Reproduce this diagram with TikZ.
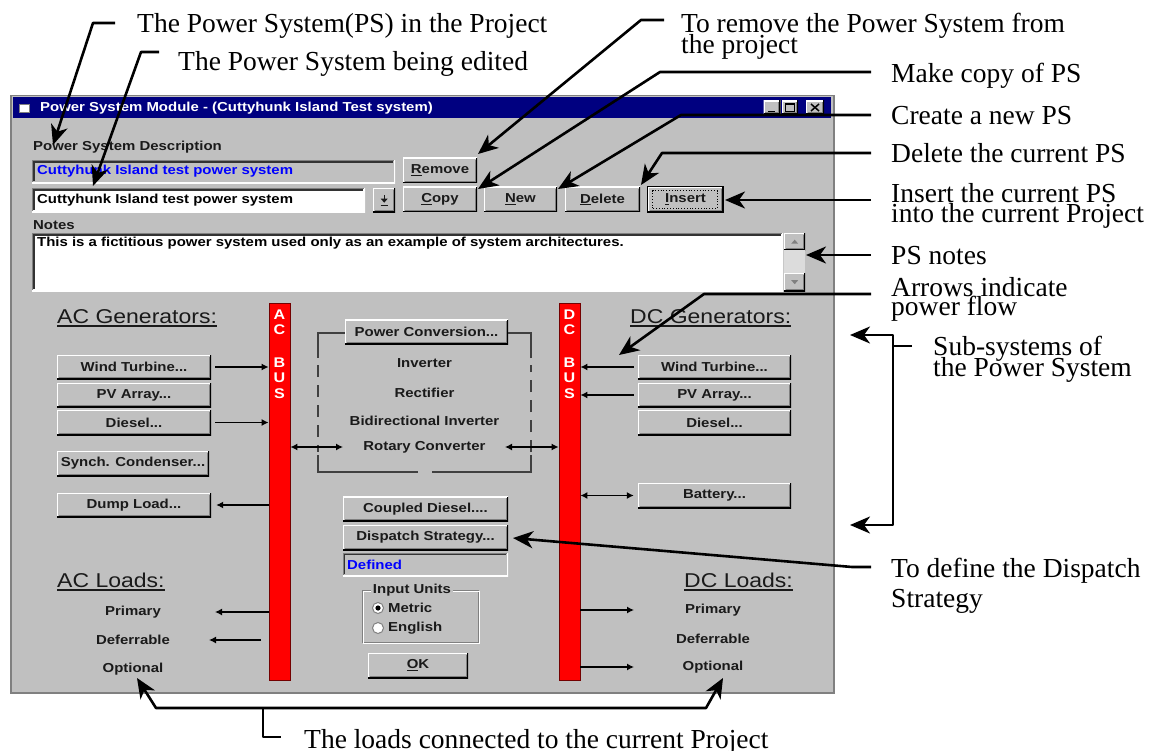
\documentclass[tikz,border=0pt]{standalone}
\usepackage{fontspec}
\setmainfont{Liberation Serif}
\newfontfamily\uisans[FakeStretch=1.15]{Liberation Sans}
\usetikzlibrary{arrows.meta,calc}

\definecolor{winbg}{HTML}{C0C0C0}
\definecolor{navy}{HTML}{000080}
\definecolor{btnshadow}{HTML}{808080}
\definecolor{busred}{HTML}{FF0000}
\definecolor{fieldblue}{HTML}{0000FF}
\definecolor{inktext}{HTML}{1A1A1A}
\definecolor{track}{HTML}{DCDCDC}

\newcommand\uitext{\uisans\bfseries\fontsize{13}{13}\selectfont}
\newcommand\uihead{\uisans\fontsize{20}{20}\selectfont}
\newcommand\bustext{\uisans\bfseries\fontsize{14}{14}\selectfont}
\newcommand\anntext{\fontsize{27.5}{22}\selectfont}
\newcommand\ulc[1]{\underline{#1}}

\tikzset{
  wh/.style 2 args={minimum width=#1pt, minimum height=#2pt},
  raised/.style={fill=winbg, inner sep=0pt, font=\uitext, text=inktext,
    path picture={
      \draw[draw=white,line width=2.4pt]
        (path picture bounding box.south west) -- (path picture bounding box.north west)
        -- (path picture bounding box.north east);
      \draw[draw=black,line width=2.4pt]
        (path picture bounding box.north east) -- (path picture bounding box.south east)
        -- (path picture bounding box.south west);
      \draw[draw=btnshadow,line width=1.2pt]
        ([xshift=-1.8pt,yshift=-1.8pt]path picture bounding box.north east)
        -- ([xshift=-1.8pt,yshift=1.8pt]path picture bounding box.south east)
        -- ([xshift=1.8pt,yshift=1.8pt]path picture bounding box.south west);
    }},
  sunken/.style={inner sep=0pt,
    path picture={
      \draw[draw=btnshadow,line width=2.4pt]
        (path picture bounding box.south west) -- (path picture bounding box.north west)
        -- (path picture bounding box.north east);
      \draw[draw=white,line width=2.4pt]
        (path picture bounding box.north east) -- (path picture bounding box.south east)
        -- (path picture bounding box.south west);
      \draw[draw=black!80,line width=1.2pt]
        ([xshift=1.8pt,yshift=1.8pt]path picture bounding box.south west)
        -- ([xshift=1.8pt,yshift=-1.8pt]path picture bounding box.north west)
        -- ([xshift=-1.8pt,yshift=-1.8pt]path picture bounding box.north east);
    }},
  uilabel/.style={font=\uitext, text=inktext, inner sep=0pt},
  uihead/.style={font=\uihead, text=inktext, inner sep=0pt, anchor=base west},
  headline/.style={line width=1.1pt, draw=inktext},
  bus/.style={fill=busred, draw=red!45!black, line width=0.8pt, inner sep=0pt},
  busletter/.style={font=\bustext, text=white, inner sep=0pt},
  frameline/.style={line width=1.1pt, draw=black!75},
  uiarr/.style={line width=1.3pt, -{Latex[length=7pt,width=7pt]}},
  uidbl/.style={line width=1.3pt, {Latex[length=7pt,width=7pt]}-{Latex[length=7pt,width=7pt]}},
  ann/.style={line width=2.6pt, line join=round, -{Stealth[length=20pt,width=17pt,inset=6pt]}},
  anndbl/.style={line width=2.6pt, line join=round,
    {Stealth[length=20pt,width=17pt,inset=6pt]}-{Stealth[length=20pt,width=17pt,inset=6pt]}},
  leader/.style={line width=2.6pt, line join=round},
  annlabel/.style={font=\anntext, text=black, inner sep=0pt, anchor=base west},
}

\begin{document}
\begin{tikzpicture}[x=1pt,y=-1pt]
\useasboundingbox (0,0) rectangle (1156,751);
\fill[white] (0,0) rectangle (1156,751);

% ---------- dialog window ----------
\node[fill=winbg, draw=btnshadow, line width=1.5pt, inner sep=0pt, wh={823}{597}, anchor=north west] (win) at (10,95) {};
\node[fill=navy, inner sep=0pt, wh={818}{21}, anchor=north west] (titlebar) at (12.5,97) {};
\node[fill=white, draw=btnshadow, line width=0.8pt, inner sep=0pt, wh={10}{8}] (winicon) at (24,108) {};
\node[font=\uitext, text=white, inner sep=0pt, anchor=west] (wintitle) at (40,108)
  {Power System Module - (Cuttyhunk Island Test system)};

\node[raised, wh={17}{14}] (tbmin) at (772,107.5) {};
\draw[line width=1.8pt] ($(tbmin.center)+(-4,4)$) -- ++(7,0);
\node[raised, wh={16}{14}] (tbmax) at (790,107.5) {};
\draw[line width=0.9pt] ($(tbmax.center)+(-4.5,-4)$) rectangle ++(9,8);
\draw[line width=1.8pt] ($(tbmax.center)+(-4.5,-3.5)$) -- ++(9,0);
\node[raised, wh={18}{14}] (tbclose) at (815,107.5) {};
\draw[line width=1.5pt] ($(tbclose.center)+(-4,-3.5)$) -- ++(8,7) ($(tbclose.center)+(4,-3.5)$) -- ++(-8,7);

% ---------- power system description ----------
\node[uilabel, anchor=west] (desclabel) at (33,147) {Power System Description};
\node[sunken, fill=winbg, wh={363}{23}, anchor=north west] (psfield) at (32,160) {};
\node[uilabel, text=fieldblue, anchor=west] (psfieldtext) at (37,171.5) {Cuttyhunk Island test power system};
\node[sunken, fill=white, wh={333}{24}, anchor=north west] (pscombo) at (32,188) {};
\node[uilabel, text=black, anchor=west] (pscombotext) at (37,200) {Cuttyhunk Island test power system};
\node[raised, wh={22}{24}, anchor=north west] (psdrop) at (373,188) {};
\fill[inktext] ($(psdrop.center)+(-3.5,-1.5)$) -- ++(7,0) -- ++(-3.5,4) -- cycle;
\draw[draw=inktext, line width=1pt] ($(psdrop.center)+(-3.5,5)$) -- ++(7,0);
\draw[draw=inktext, line width=1pt] ($(psdrop.center)+(0,-5)$) -- ++(0,4);

\node[raised, wh={74}{25}] (btnremove) at (440,170.5) {\ulc{R}emove};
\node[raised, wh={74}{25}] (btncopy) at (440,199.5) {\ulc{C}opy};
\node[raised, wh={73}{25}] (btnnew) at (520.5,199.5) {\ulc{N}ew};
\node[raised, wh={75}{25}] (btndelete) at (602.5,199.5) {\ulc{D}elete};
\node[raised, wh={75}{25}] (btninsert) at (685.5,199.5) {\ulc{I}nsert};
\draw[draw=black, line width=1.3pt] (btninsert.south west) rectangle (btninsert.north east);
\draw[draw=black, line width=0.8pt, dotted] ([xshift=5pt,yshift=4pt]btninsert.south west) rectangle ([xshift=-6pt,yshift=-4pt]btninsert.north east);

% ---------- notes ----------
\node[uilabel, anchor=west] (noteslabel) at (33,225) {Notes};
\node[sunken, fill=white, wh={751}{58}, anchor=north west] (notesbox) at (32,233) {};
\node[uilabel, text=black, anchor=west] (notestext) at (37,243)
  {This is a fictitious power system used only as an example of system architectures.};
\node[raised, wh={21}{17}, anchor=north west] (scrollup) at (784,233) {};
\node[fill=track, inner sep=0pt, wh={21}{23}, anchor=north west] (scrolltrack) at (784,250) {};
\node[raised, wh={21}{18}, anchor=north west] (scrolldown) at (784,273) {};
\fill[btnshadow] ($(scrollup.center)+(-3.5,2)$) -- ++(7,0) -- ++(-3.5,-4) -- cycle;
\fill[btnshadow] ($(scrolldown.center)+(-3.5,-2)$) -- ++(7,0) -- ++(-3.5,4) -- cycle;

% ---------- AC side ----------
\node[uihead] (acgenhead) at (57,323) {AC Generators:};
\draw[headline] ([yshift=-3pt]acgenhead.base west) -- ([yshift=-3pt]acgenhead.base east);
\node[raised, wh={154}{24}] (acwind) at (134,367) {Wind Turbine...};
\node[raised, wh={154}{24}] (acpv) at (134,395) {PV Array...};
\node[raised, wh={154}{25}] (acdiesel) at (134,422.5) {Diesel...};
\node[raised, wh={152}{25}] (acsynch) at (133,463.5) {Synch. Condenser...};
\node[raised, wh={154}{24}] (acdump) at (134,505) {Dump Load...};

\node[uihead] (acloadhead) at (57,587) {AC Loads:};
\draw[headline] ([yshift=-3pt]acloadhead.base west) -- ([yshift=-3pt]acloadhead.base east);
\node[uilabel] (acprim) at (133,612) {Primary};
\node[uilabel] (acdefer) at (133,640) {Deferrable};
\node[uilabel] (acopt) at (133,669) {Optional};

\node[bus, wh={21}{377}] (acbus) at (279.5,491.5) {};
\node[busletter] (acbusA) at (279.5,315) {A};
\node[busletter] (acbusC) at (279.5,330) {C};
\node[busletter] (acbusB) at (279.5,363) {B};
\node[busletter] (acbusU) at (279.5,378) {U};
\node[busletter] (acbusS) at (279.5,394) {S};

% ---------- DC side ----------
\node[bus, wh={21}{377}] (dcbus) at (569.5,491.5) {};
\node[busletter] (dcbusD) at (569.5,315) {D};
\node[busletter] (dcbusC) at (569.5,330) {C};
\node[busletter] (dcbusB) at (569.5,363) {B};
\node[busletter] (dcbusU) at (569.5,378) {U};
\node[busletter] (dcbusS) at (569.5,394) {S};

\node[uihead] (dcgenhead) at (630,323) {DC Generators:};
\draw[headline] ([yshift=-3pt]dcgenhead.base west) -- ([yshift=-3pt]dcgenhead.base east);
\node[raised, wh={153}{24}] (dcwind) at (714.5,367) {Wind Turbine...};
\node[raised, wh={153}{24}] (dcpv) at (714.5,395) {PV Array...};
\node[raised, wh={153}{25}] (dcdiesel) at (714.5,422.5) {Diesel...};
\node[raised, wh={153}{25}] (dcbatt) at (714.5,495.5) {Battery...};

\node[uihead] (dcloadhead) at (684,587) {DC Loads:};
\draw[headline] ([yshift=-3pt]dcloadhead.base west) -- ([yshift=-3pt]dcloadhead.base east);
\node[uilabel] (dcprim) at (713,610) {Primary};
\node[uilabel] (dcdefer) at (713,639) {Deferrable};
\node[uilabel] (dcopt) at (713,667) {Optional};

% ---------- power conversion ----------
\node[raised, wh={163}{25}] (pcbtn) at (426.5,332) {Power Conversion...};
\draw[frameline] (pcbtn.west |- 0,333) -- (318,333) -- (318,358);
\draw[frameline, dash pattern=on 12pt off 8pt] (318,365) -- (318,452);
\draw[frameline] (318,455) -- (318,472) -- (418,472);
\draw[frameline] (432,472) -- (531,472) -- (531,455);
\draw[frameline, dash pattern=on 12pt off 8pt] (531,452) -- (531,365);
\draw[frameline] (531,358) -- (531,333) -- (pcbtn.east |- 0,333);
\node[uilabel] (pcinv) at (424.5,363) {Inverter};
\node[uilabel] (pcrect) at (424.5,393) {Rectifier};
\node[uilabel] (pcbidir) at (424.5,421) {Bidirectional Inverter};
\node[uilabel] (pcrot) at (424.5,447) {Rotary Converter};

% ---------- centre controls ----------
\node[raised, wh={165}{25}] (btncoupled) at (425.5,509) {Coupled Diesel....};
\node[raised, wh={165}{25}] (btndispatch) at (425.5,537.5) {Dispatch Strategy...};
\node[sunken, fill=winbg, wh={165}{23}] (dispfield) at (425.5,564.5) {};
\node[uilabel, text=fieldblue, anchor=west] (dispfieldtext) at (347,564.5) {Defined};

\draw[draw=btnshadow, line width=1pt] (362,590) rectangle (478,642);
\draw[draw=white, line width=1pt] (363.2,591.2) rectangle (479.2,643.2);
\node[uilabel, fill=winbg, inner xsep=2pt] (unitslabel) at (412,590) {Input Units};
\node[circle, draw=btnshadow, fill=white, line width=1pt, minimum size=11pt, inner sep=0pt] (rmetric) at (378,608) {};
\fill[black] (rmetric.center) circle (2.6);
\node[uilabel, anchor=west] (metriclabel) at (388,608) {Metric};
\node[circle, draw=btnshadow, fill=white, line width=1pt, minimum size=11pt, inner sep=0pt] (renglish) at (378,628) {};
\node[uilabel, anchor=west] (englishlabel) at (388,628) {English};
\node[raised, wh={100}{25}] (btnok) at (418,665.5) {\ulc{O}K};

% ---------- power flow arrows ----------
\draw[uiarr] ([xshift=4pt]acwind.east) -- (acwind.east -| acbus.west);
\draw[uiarr] ([xshift=4pt]acdiesel.east) -- (acdiesel.east -| acbus.west);
\draw[uiarr] (acdump.east -| acbus.west) -- ([xshift=5pt]acdump.east);
\coordinate (acprimtip) at (215,612);
\coordinate (acdefstart) at (261,640);
\coordinate (acdeftip) at (209,640);
\draw[uiarr] (acprimtip -| acbus.west) -- (acprimtip);
\draw[uiarr] (acdefstart) -- (acdeftip);

\draw[uiarr] ([xshift=-4pt]dcwind.west) -- (dcwind.west -| dcbus.east);
\draw[uiarr] ([xshift=-4pt]dcpv.west) -- (dcpv.west -| dcbus.east);
\draw[uidbl] (dcbatt.west -| dcbus.east) -- ([xshift=-4pt]dcbatt.west);
\coordinate (dcprimtip) at (634,610);
\coordinate (dcopttip) at (634,667);
\draw[uiarr] (dcprimtip -| dcbus.east) -- (dcprimtip);
\draw[uiarr] (dcopttip -| dcbus.east) -- (dcopttip);

\coordinate (rotleft) at (343,447);
\coordinate (rotright) at (505,447);
\draw[uidbl] (rotleft -| acbus.east) -- (rotleft);
\draw[uidbl] (rotright) -- (rotright -| dcbus.west);

% ---------- callouts ----------
\node[annlabel] (tpsproj) at (137,33) {The Power System(PS) in the Project};
\node[annlabel] (tpsedit) at (178,71) {The Power System being edited};
\node[annlabel] (tremovea) at (681,33) {To remove the Power System from};
\node[annlabel] (tremoveb) at (681,54) {the project};
\node[annlabel] (tcopy) at (891,83) {Make copy of PS};
\node[annlabel] (tnew) at (891,125) {Create a new PS};
\node[annlabel] (tdelete) at (891,163) {Delete the current PS};
\node[annlabel] (tinserta) at (891,203) {Insert the current PS};
\node[annlabel] (tinsertb) at (891,223) {into the current Project};
\node[annlabel] (tnotes) at (891,265) {PS notes};
\node[annlabel] (tflowa) at (891,297) {Arrows indicate};
\node[annlabel] (tflowb) at (891,316) {power flow};
\node[annlabel] (tsuba) at (933,355) {Sub-systems of};
\node[annlabel] (tsubb) at (933,376) {the Power System};
\node[annlabel] (tdispa) at (891,577) {To define the Dispatch};
\node[annlabel] (tdispb) at (891,607) {Strategy};
\node[annlabel] (tloads) at (304,748) {The loads connected to the current Project};

\coordinate (c1s) at (115,23);  \coordinate (c1k) at (93,23);  \coordinate (c1t) at (53,145);
\coordinate (c2s) at (159,52);  \coordinate (c2k) at (141,52); \coordinate (c2t) at (93,186);
\coordinate (crs) at (664,20);  \coordinate (crk) at (641,20); \coordinate (crt) at (478,154);
\coordinate (ccs) at (871,72);  \coordinate (cck) at (660,72); \coordinate (cct) at (478,189);
\coordinate (cns) at (871,115); \coordinate (cnk) at (681,115); \coordinate (cnt) at (558,189);
\coordinate (cds) at (871,153); \coordinate (cdk) at (662,153); \coordinate (cdt) at (641,185);
\coordinate (cis) at (871,200); \coordinate (cit) at (725,200);
\coordinate (cps) at (871,255); \coordinate (cpt) at (806,255);
\coordinate (cas) at (871,294); \coordinate (cak) at (704,294); \coordinate (cat) at (619,355);
\coordinate (cbtop) at (850,335); \coordinate (cbk1) at (893,335); \coordinate (cbk2) at (893,525);
\coordinate (cbbot) at (850,525); \coordinate (cbtick) at (912,346);
\coordinate (css) at (871,567); \coordinate (csk) at (852,567); \coordinate (cst) at (513,538);
\coordinate (clt1) at (137,678); \coordinate (clk1) at (156,708); \coordinate (clk2) at (706,708);
\coordinate (clt2) at (723,678); \coordinate (clb1) at (263,708); \coordinate (clb2) at (263,737);
\coordinate (clb3) at (281,737);

\draw[ann] (c1s) -- (c1k) -- (c1t);
\draw[ann] (c2s) -- (c2k) -- (c2t);
\draw[ann] (crs) -- (crk) -- (crt);
\draw[ann] (ccs) -- (cck) -- (cct);
\draw[ann] (cns) -- (cnk) -- (cnt);
\draw[ann] (cds) -- (cdk) -- (cdt);
\draw[ann] (cis) -- (cit);
\draw[ann] (cps) -- (cpt);
\draw[ann] (cas) -- (cak) -- (cat);
\draw[anndbl] (cbtop) -- (cbk1) -- (cbk2) -- (cbbot);
\draw[leader] (cbtick) -- (cbtick -| cbk1);
\draw[ann] (css) -- (csk) -- (cst);
\draw[anndbl] (clt1) -- (clk1) -- (clk2) -- (clt2);
\draw[leader] (clb1) -- (clb2) -- (clb3);
\end{tikzpicture}
\end{document}
